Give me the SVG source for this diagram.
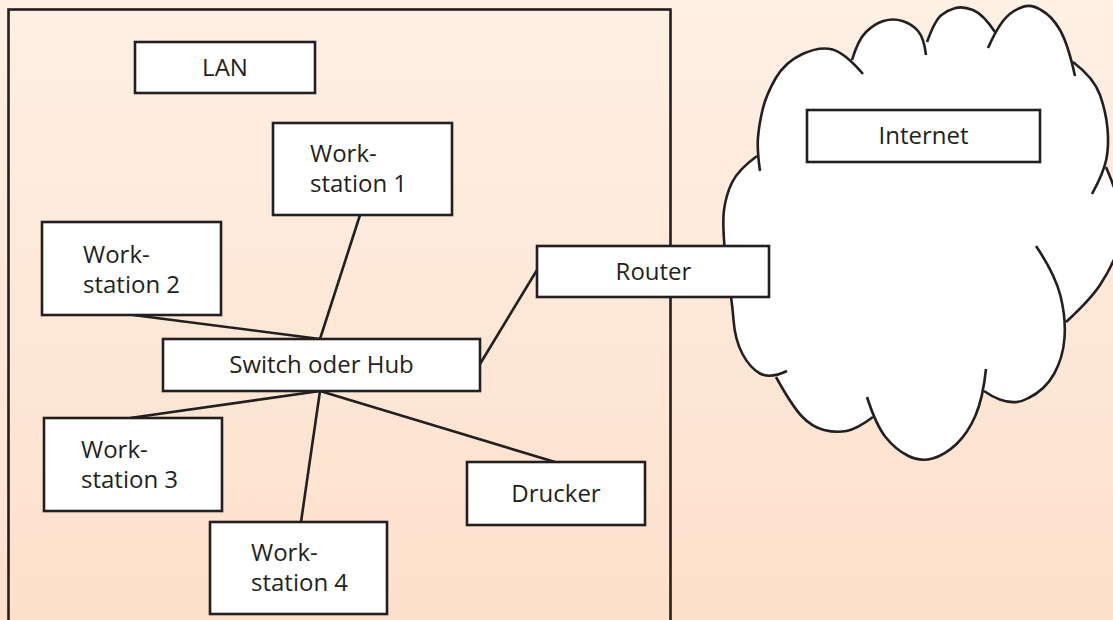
<svg xmlns="http://www.w3.org/2000/svg" width="1113" height="620" viewBox="0 0 1113 620">
  <defs>
    <linearGradient id="bg" x1="0" y1="0" x2="0" y2="1">
      <stop offset="0" stop-color="#FEF0E4"/>
      <stop offset="1" stop-color="#FDE0CB"/>
    </linearGradient>
    <style>
      .box { fill: #FFFFFF; stroke: #231F20; stroke-width: 2.6; }
      .frame { fill: none; stroke: #231F20; stroke-width: 2.6; }
      .lbl { font-family: "Open Sans", "Noto Sans", "Liberation Sans", sans-serif; font-size: 24px; fill: #231F20; }
      .mid { text-anchor: middle; }
      .conn { stroke: #231F20; stroke-width: 2.6; fill: none; }
      .cloudFill { fill: #FFFFFF; stroke: #FFFFFF; stroke-width: 2; stroke-linejoin: round; }
      .cloudLine { fill: none; stroke: #231F20; stroke-width: 2.6; }
    </style>
  </defs>
  <rect x="0" y="0" width="1113" height="620" fill="url(#bg)"/>

  <g id="lan-frame">
    <rect class="frame" x="8.5" y="9.5" width="662" height="640"/>
  </g>

  <g id="connectors">
    <line class="conn" x1="360" y1="215" x2="320" y2="339"/>
    <line class="conn" x1="133" y1="315" x2="320" y2="339"/>
    <line class="conn" x1="537" y1="270" x2="480" y2="364"/>
    <line class="conn" x1="320" y1="391" x2="130" y2="418"/>
    <line class="conn" x1="320" y1="391" x2="301" y2="522"/>
    <line class="conn" x1="320" y1="391" x2="555" y2="462"/>
  </g>

  <g id="internet-cloud">
    <path class="cloudFill" d="
      M915,235 L760,171 Q757,150 758,137.5 Q759,125 762.5,110 Q766,95 775.5,78.5 Q785,62 802.5,54 Q820,46 832.5,49.5 Q845,53 863,74 Z
      M915,235 L852,60 Q858,40 866,32 Q874,24 883.5,21 Q893,18 902.5,21 Q912,24 918,31 Q924,38 926,55 Z
      M915,235 L927,42 Q935,20 941.5,15 Q948,10 955.5,8 Q963,6 973,10 Q983,14 995,32 Z
      M915,235 L988,48 Q996,30 1003,21 Q1010,12 1020,8 Q1030,3 1041,10 Q1052,16 1060,30 Q1068,44 1075,76 Z
      M915,235 L1073,62 Q1094,78 1100,95 Q1106,112 1107.5,128.5 Q1109,145 1106.5,158.5 Q1104,172 1092,194 Z
      M915,235 L1106,167 Q1120,200 1122,217.5 Q1124,235 1117,252.5 Q1110,270 1100,285 Q1090,300 1066,322 Z
      M915,235 L1036,246 Q1055,274 1060.5,296 Q1066,318 1064.5,338 Q1063,358 1054,374 Q1045,390 1028.5,398 Q1010,409 984,391 Z
      M915,235 L986,369 Q983,398 975.5,415.5 Q968,433 956.5,444 Q945,455 932.5,458.5 Q920,462 907.5,455.5 Q895,449 885.5,437 Q876,425 867,397 Z
      M915,235 L873,417 Q857,429 846.5,431 Q836,433 824,430 Q812,427 802,416.5 Q792,406 776,377 Z
      M915,235 L787,371 Q770,379 760,373.5 Q750,368 742.5,354 Q735,340 733.5,320 Q732,300 726,262 Z
      M915,235 L726,262 Q722,225 724,210 Q726,195 732,182.5 Q738,170 757,156 Z"/>
    <path class="cloudLine" d="M760,171 Q757,150 758,137.5 Q759,125 762.5,110 Q766,95 775.5,78.5 Q785,62 802.5,54 Q820,46 832.5,49.5 Q845,53 863,74"/>
    <path class="cloudLine" d="M852,60 Q858,40 866,32 Q874,24 883.5,21 Q893,18 902.5,21 Q912,24 918,31 Q924,38 926,55"/>
    <path class="cloudLine" d="M927,42 Q935,20 941.5,15 Q948,10 955.5,8 Q963,6 973,10 Q983,14 995,32"/>
    <path class="cloudLine" d="M988,48 Q996,30 1003,21 Q1010,12 1020,8 Q1030,3 1041,10 Q1052,16 1060,30 Q1068,44 1075,76"/>
    <path class="cloudLine" d="M1073,62 Q1094,78 1100,95 Q1106,112 1107.5,128.5 Q1109,145 1106.5,158.5 Q1104,172 1092,194"/>
    <path class="cloudLine" d="M1106,167 Q1120,200 1122,217.5 Q1124,235 1117,252.5 Q1110,270 1100,285 Q1090,300 1066,322"/>
    <path class="cloudLine" d="M1036,246 Q1055,274 1060.5,296 Q1066,318 1064.5,338 Q1063,358 1054,374 Q1045,390 1028.5,398 Q1010,409 984,391"/>
    <path class="cloudLine" d="M986,369 Q983,398 975.5,415.5 Q968,433 956.5,444 Q945,455 932.5,458.5 Q920,462 907.5,455.5 Q895,449 885.5,437 Q876,425 867,397"/>
    <path class="cloudLine" d="M873,417 Q857,429 846.5,431 Q836,433 824,430 Q812,427 802,416.5 Q792,406 776,377"/>
    <path class="cloudLine" d="M726,262 Q732,300 733.5,320 Q735,340 742.5,354 Q750,368 760,373.5 Q770,379 787,371"/>
    <path class="cloudLine" d="M757,156 Q738,170 732,182.5 Q726,195 724,210 Q722,225 726,262"/>
  </g>

  <g id="node-lan">
    <rect class="box" x="135" y="42" width="180" height="51"/>
    <text class="lbl mid" x="225" y="76">LAN</text>
  </g>
  <g id="node-internet">
    <rect class="box" x="807" y="110" width="233" height="52"/>
    <text class="lbl mid" x="923.5" y="144">Internet</text>
  </g>
  <g id="node-workstation1">
    <rect class="box" x="273" y="123" width="179" height="92"/>
    <text class="lbl" x="310" y="162">Work-</text>
    <text class="lbl" x="310" y="192">station 1</text>
  </g>
  <g id="node-workstation2">
    <rect class="box" x="42" y="222" width="179" height="93"/>
    <text class="lbl" x="83" y="263">Work-</text>
    <text class="lbl" x="83" y="293">station 2</text>
  </g>
  <g id="node-router">
    <rect class="box" x="537" y="246" width="232" height="51"/>
    <text class="lbl mid" x="653.5" y="280">Router</text>
  </g>
  <g id="node-switch">
    <rect class="box" x="163" y="339" width="317" height="52"/>
    <text class="lbl mid" x="321.5" y="373">Switch oder Hub</text>
  </g>
  <g id="node-workstation3">
    <rect class="box" x="44" y="418" width="178" height="93"/>
    <text class="lbl" x="81" y="458">Work-</text>
    <text class="lbl" x="81" y="488">station 3</text>
  </g>
  <g id="node-drucker">
    <rect class="box" x="467" y="462" width="178" height="63"/>
    <text class="lbl mid" x="556" y="502">Drucker</text>
  </g>
  <g id="node-workstation4">
    <rect class="box" x="210" y="522" width="177" height="92"/>
    <text class="lbl" x="251" y="561">Work-</text>
    <text class="lbl" x="251" y="591">station 4</text>
  </g>
</svg>
